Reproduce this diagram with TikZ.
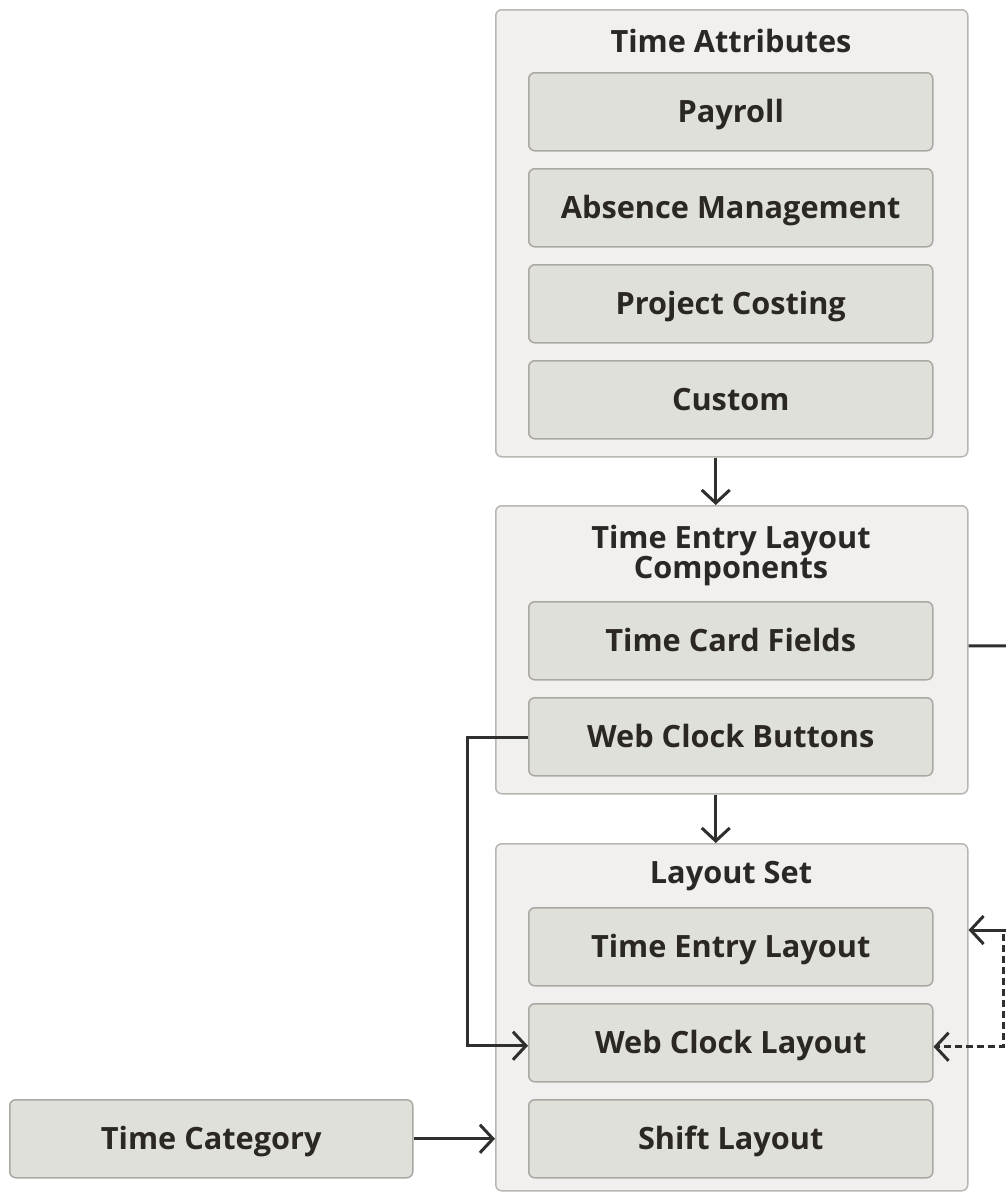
\documentclass[tikz,border=0pt]{standalone}
\usepackage{fontspec}
\setmainfont{Open Sans}
\usetikzlibrary{arrows.meta}
\definecolor{outerfill}{HTML}{F2F0EF}
\definecolor{outerline}{HTML}{B9B5B1}
\definecolor{innerfill}{HTML}{E0E0DB}
\definecolor{innerline}{HTML}{ABA8A3}
\definecolor{txt}{HTML}{2A2725}
\definecolor{conncol}{HTML}{2F2F2D}
\tikzset{
  outerbox/.style={draw=outerline, fill=outerfill, line width=1.5pt, rounded corners=6pt, anchor=north west, inner sep=0pt, minimum width=472pt},
  innerbox/.style={draw=innerline, fill=innerfill, line width=1.5pt, rounded corners=6pt, anchor=north west, inner sep=0pt, minimum width=404pt, minimum height=78pt, text height=22pt, text depth=0pt, font=\bfseries\fontsize{30.7}{30}\selectfont, text=txt},
  titletext/.style={inner sep=0pt, font=\bfseries\fontsize{30.7}{30}\selectfont, text=txt, align=center},
  conn/.style={draw=conncol, line width=3pt, -{Straight Barb[length=13pt,width=28pt,line width=3pt]}},
  plainline/.style={draw=conncol, line width=3pt},
  dashedconn/.style={conn, dash pattern=on 7pt off 4pt}
}
\begin{document}
\begin{tikzpicture}[x=1pt,y=-1pt]
\useasboundingbox (0,0) rectangle (1005,1192);
% outer boxes
\node[outerbox, minimum height=447pt] (box1) at (495,9) {};
\node[outerbox, minimum height=288pt] (box2) at (495,505) {};
\node[outerbox, minimum height=347pt] (box3) at (495,843) {};
% titles
\node[titletext, anchor=base] (t1) at (731,52) {Time Attributes};
\node[titletext, anchor=north] (t2) at (731,525) {Time Entry Layout\\Components};
\node[titletext, anchor=base] (t3) at (731,883) {Layout Set};
% inner boxes
\node[innerbox] (pay) at (528,72) {Payroll};
\node[innerbox] (abs) at (528,168) {Absence Management};
\node[innerbox] (pc) at (528,264) {Project Costing};
\node[innerbox] (cus) at (528,360) {Custom};
\node[innerbox] (tcf) at (528,601) {Time Card Fields};
\node[innerbox] (wcb) at (528,697) {Web Clock Buttons};
\node[innerbox] (tel) at (528,907) {Time Entry Layout};
\node[innerbox] (wcl) at (528,1003) {Web Clock Layout};
\node[innerbox] (sl) at (528,1099) {Shift Layout};
\node[innerbox, minimum width=403pt] (tc) at (9,1099) {Time Category};
% free ends
\coordinate (redge1) at (1012,646);
\coordinate (redge2) at (1012,930);
\coordinate (dtop) at (1003,934);
% connectors
\draw[conn] ([xshift=-16pt]box1.south) -- ([xshift=-16pt]box2.north);
\draw[conn] ([xshift=-16pt]box2.south) -- ([xshift=-16pt]box3.north);
\draw[plainline] ([yshift=-5pt]tcf.east -| box2.east) -- (redge1);
\draw[conn] ([yshift=-1pt]wcb.west) -- ++(-61,0) |- ([yshift=-3pt]wcl.west);
\draw[conn] (redge2) -- (redge2 -| box3.east);
\draw[dashedconn] (dtop) |- ([yshift=-4pt]wcl.east);
\draw[conn] (tc.east) -- (tc.east -| box3.west);
\end{tikzpicture}
\end{document}
